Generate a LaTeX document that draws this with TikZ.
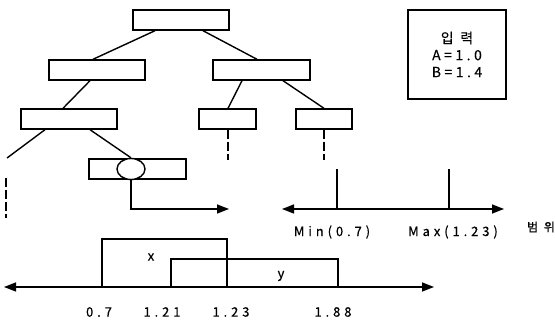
\documentclass[tikz,border=0pt]{standalone}
\usepackage{fontspec}
\setmainfont{Noto Sans CJK KR}
\usetikzlibrary{arrows.meta,shapes.geometric}

\tikzset{
  treebox/.style={draw, line width=1.4pt, minimum height=20pt, inner sep=0pt},
  conn/.style={line width=1.4pt},
  hidden/.style={line width=1.4pt, dash pattern=on 9pt off 3pt},
  axis/.style={line width=1.4pt, {Triangle[length=12pt,width=9pt]}-{Triangle[length=12pt,width=9pt]}},
  lbl/.style={font=\fontsize{13pt}{15pt}\selectfont\addfontfeature{FakeBold=0.4,LetterSpace=30}, inner sep=0pt}
}

\begin{document}
\begin{tikzpicture}[x=1pt,y=-1pt]
\useasboundingbox (0,0) rectangle (555,323);

% decision tree
\node[treebox, minimum width=96pt] (n1) at (181,20) {};
\node[treebox, minimum width=96pt] (n2) at (97,70) {};
\node[treebox, minimum width=97pt] (n3) at (261.5,70) {};
\node[treebox, minimum width=96pt] (n4) at (69,119) {};
\node[treebox, minimum width=57pt] (n5) at (227.5,119) {};
\node[treebox, minimum width=56pt] (n6) at (324,119) {};
\node[treebox, minimum width=97pt] (n7) at (137.5,169) {};
\node[draw, ellipse, fill=white, line width=1.4pt, minimum width=28pt, minimum height=21pt, inner sep=0pt] (e1) at (131,169) {};

\coordinate (cutL) at (7,158);
\coordinate (dashA) at (6,178);
\coordinate (dashB) at (6,218);
\coordinate (dn5) at (228,160);
\coordinate (dn6) at (324,160);
\coordinate (bend) at (131,209);
\coordinate (outp) at (229,209);

\draw[conn] ([xshift=-26pt]n1.south) -- ([xshift=-4pt]n2.north);
\draw[conn] ([xshift=22pt]n1.south) -- ([xshift=-4.5pt]n3.north);
\draw[conn] ([xshift=-7pt]n2.south) -- ([xshift=-6pt]n4.north);
\draw[conn] ([xshift=-19.5pt]n3.south) -- ([xshift=0.5pt]n5.north);
\draw[conn] ([xshift=21.5pt]n3.south) -- (n6.north);
\draw[conn] ([xshift=-24pt]n4.south) -- (cutL);
\draw[conn] ([xshift=21pt]n4.south) -- (e1.north);
\draw[hidden] (dashA) -- (dashB);
\draw[hidden] ([xshift=0.5pt]n5.south) -- (dn5);
\draw[hidden] (n6.south) -- (dn6);
\draw[conn, -{Triangle[length=12pt,width=9pt]}] (e1.south) -- (bend) -- (outp);

% input box
\node[draw, line width=1.4pt, minimum width=98pt, minimum height=89pt, align=center, inner sep=0pt,
      font=\fontsize{14pt}{17pt}\selectfont\addfontfeature{FakeBold=0.4}] (inp) at (457,54.5)
  {{\addfontfeature{LetterSpace=25}입 력}\\{\addfontfeature{LetterSpace=25}A=1.0}\\{\addfontfeature{LetterSpace=25}B=1.4}};

% range axis
\coordinate (rL) at (282,209);
\coordinate (rR) at (504,209);
\coordinate (tMin) at (337,169);
\coordinate (tMax) at (449,169);
\draw[axis] (rL) -- (rR);
\draw[conn] (tMin) -- (tMin |- rL);
\draw[conn] (tMax) -- (tMax |- rL);
\node[lbl] (lmin) at (332,232) {Min(0.7)};
\node[lbl] (lmax) at (453,232) {Max(1.23)};
\node[lbl, font=\fontsize{12pt}{14pt}\selectfont\addfontfeature{FakeBold=0.4,LetterSpace=25}] (lrange) at (541,227) {범 위};

% overlapping intervals
\coordinate (aL) at (4,287);
\coordinate (aR) at (434,287);
\draw[axis] (aL) -- (aR);
\draw[conn] (102,287) -- (102,239) -- (227,239) -- (227,287);
\draw[conn] (171,287) -- (171,259) -- (338,259) -- (338,287);
\node[lbl] (lx) at (151,257) {x};
\node[lbl] (ly) at (281,276) {y};
\node[lbl] (v1) at (99,312) {0.7};
\node[lbl] (v2) at (162,312) {1.21};
\node[lbl] (v3) at (231,312) {1.23};
\node[lbl] (v4) at (333,312) {1.88};
\end{tikzpicture}
\end{document}
